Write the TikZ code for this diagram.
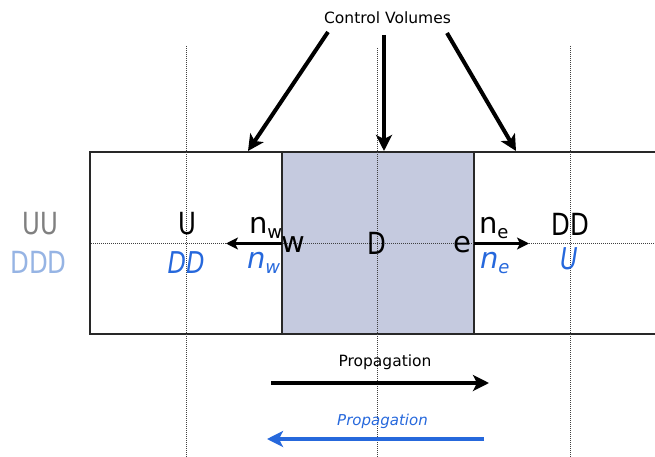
\documentclass[tikz,border=0pt]{standalone}
\usepackage{fontspec}
\setmainfont{DejaVu Sans}
\newfontfamily\capsf[FakeStretch=0.8]{DejaVu Sans}
\usetikzlibrary{arrows.meta}
\definecolor{cvfill}{RGB}{197,202,223}
\definecolor{myblue}{RGB}{38,104,220}
\definecolor{lightblue}{RGB}{150,180,228}
\definecolor{mygray}{RGB}{128,128,128}
\definecolor{boxline}{RGB}{40,40,40}
\newcommand{\mybigcap}[1]{{\capsf\fontsize{30.5}{30.5}\selectfont #1}}
\newcommand{\mybigit}[1]{{\capsf\itshape\fontsize{30}{30}\selectfont #1}}
\newcommand{\lowtxt}[2]{{\fontsize{29}{29}\selectfont #1\raisebox{-5pt}{\fontsize{18}{18}\selectfont #2}}}
\newcommand{\lowit}[2]{{\itshape\fontsize{29}{29}\selectfont #1\raisebox{-5pt}{\fontsize{18}{18}\selectfont #2}}}
\begin{document}
\begin{tikzpicture}[x=1pt,y=-1pt,
  cell/.style={draw=boxline,line width=2pt},
  grid/.style={draw=black!75,line width=1pt,dash pattern=on 1pt off 1pt},
  bigarrow/.style={line width=4pt,-{Stealth[length=16pt,width=16pt,inset=4pt]}},
  smallarrow/.style={line width=3pt,-{Stealth[length=12pt,width=12pt,inset=3pt]}},
  lbl/.style={inner sep=0pt,outer sep=0pt}]
\useasboundingbox (0,0) rectangle (655,457);
% cells
\fill[cvfill] (282,152) rectangle (474,334);
\draw[cell] (90,152) rectangle (282,334);
\draw[cell] (282,152) rectangle (474,334);
\draw[cell] (656,152) -- (474,152) -- (474,334) -- (656,334);
% dotted grid lines
\draw[grid] (186,46) -- (186,457);
\draw[grid] (377,48) -- (377,457);
\draw[grid] (570,46) -- (570,457);
\draw[grid] (91,243.5) -- (655,243.5);
% title and arrows
\node[lbl] (cv) at (387.5,18) {\fontsize{15.5}{15.5}\selectfont Control Volumes};
\coordinate (a1s) at (328,32); \coordinate (a1e) at (248,151);
\coordinate (a2s) at (384,35); \coordinate (a2e) at (384,151);
\coordinate (a3s) at (447,33); \coordinate (a3e) at (516,151);
\draw[bigarrow] (a1s) -- (a1e);
\draw[bigarrow] (a2s) -- (a2e);
\draw[bigarrow] (a3s) -- (a3e);
% left labels
\node[lbl,text=mygray] (UU) at (40,224) {\mybigcap{UU}};
\node[lbl,text=lightblue] (DDD) at (38.5,262) {\mybigcap{DDD}};
% cell centre labels
\node[lbl] (U) at (187,224) {\mybigcap{U}};
\node[lbl,text=myblue] (DDb) at (186,262.5) {\mybigit{DD}};
\node[lbl] (D) at (377,243.5) {\mybigcap{D}};
\node[lbl] (DD) at (570,224) {\mybigcap{DD}};
\node[lbl,text=myblue] (Ub) at (569,258.5) {\mybigit{U}};
% faces
\node[lbl,anchor=base] (w) at (293,252) {\fontsize{29}{29}\selectfont w};
\node[lbl,anchor=base] (e) at (462.5,252) {\fontsize{29}{29}\selectfont e};
\node[lbl,anchor=base west] (nw) at (249,233) {\lowtxt{n}{w}};
\node[lbl,anchor=base west,text=myblue] (nwb) at (247,268) {\lowit{n}{w}};
\node[lbl,anchor=base west] (ne) at (479,233) {\lowtxt{n}{e}};
\node[lbl,anchor=base west,text=myblue] (neb) at (480,268) {\lowit{n}{e}};
% normals
\coordinate (wf) at (282,243.5); \coordinate (wt) at (226,243.5);
\coordinate (ef) at (474,243.5); \coordinate (et) at (529,243.5);
\draw[smallarrow] (wf) -- (wt);
\draw[smallarrow] (ef) -- (et);
% propagation
\node[lbl] (p1) at (385,362) {\fontsize{15.5}{15.5}\selectfont Propagation};
\coordinate (p1s) at (271,383); \coordinate (p1e) at (489,383);
\draw[bigarrow] (p1s) -- (p1e);
\node[lbl,text=myblue] (p2) at (382.5,421) {\fontsize{15}{15}\selectfont\itshape Propagation};
\coordinate (p2s) at (484,439); \coordinate (p2e) at (267,439);
\draw[bigarrow,myblue] (p2s) -- (p2e);
\end{tikzpicture}
\end{document}
